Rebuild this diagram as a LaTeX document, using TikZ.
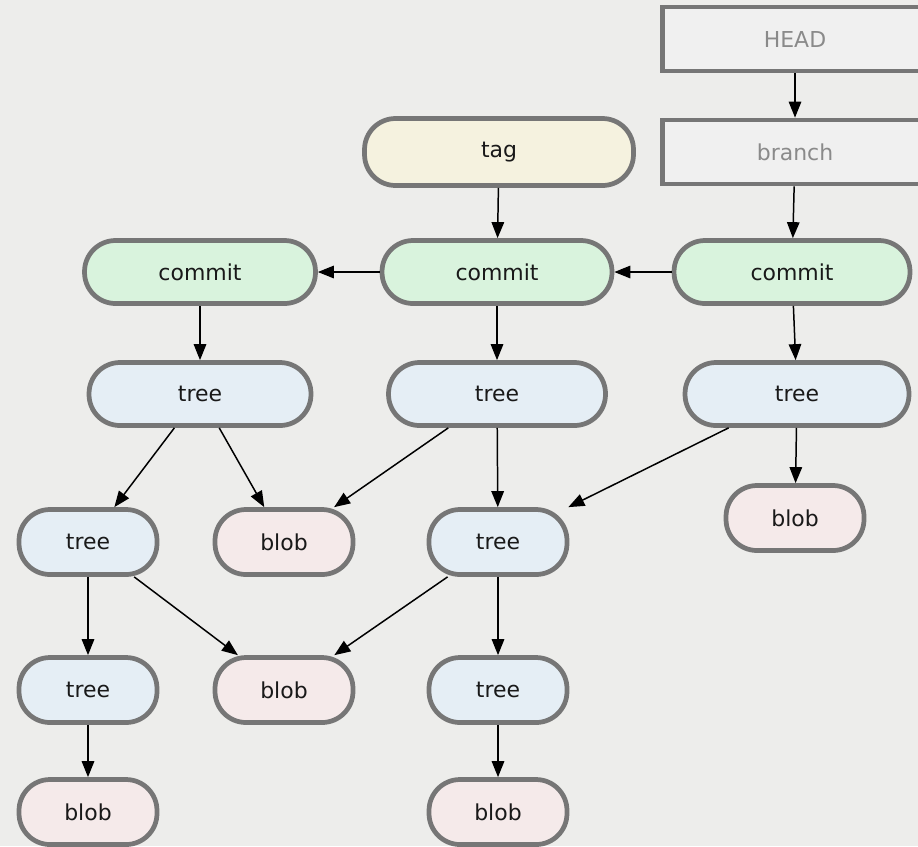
\documentclass[tikz,border=0pt]{standalone}
\usepackage{fontspec}
\setmainfont{DejaVu Sans}
\usetikzlibrary{arrows.meta}
\definecolor{bggray}{HTML}{EDEDEB}
\definecolor{edgegray}{HTML}{767676}
\definecolor{tagfill}{HTML}{F5F2DF}
\definecolor{commitfill}{HTML}{D9F3DD}
\definecolor{treefill}{HTML}{E5EEF5}
\definecolor{blobfill}{HTML}{F5EAEA}
\definecolor{reffill}{HTML}{F0F0F0}
\definecolor{reftext}{HTML}{8A8A8A}
\tikzset{
  pill/.style={draw=edgegray,line width=2.7pt,rounded corners=0.62cm,
    minimum height=1.26cm,text=black!90,font=\fontsize{12.5}{14}\selectfont},
  refbox/.style={draw=edgegray,line width=2.7pt,fill=reffill,text=reftext,
    minimum width=5.3cm,minimum height=1.28cm,font=\fontsize{12.5}{14}\selectfont},
  tagnode/.style={pill,fill=tagfill,minimum width=5.38cm,minimum height=1.34cm},
  commitnode/.style={pill,fill=commitfill},
  treenode/.style={pill,fill=treefill},
  blobnode/.style={pill,fill=blobfill},
  small/.style={minimum width=2.76cm,minimum height=1.3cm},
  link/.style={-{Triangle[length=0.32cm,width=0.25cm]},line width=0.85pt}
}
\begin{document}
\begin{tikzpicture}[x=0.02cm,y=-0.02cm]
\fill [bggray] (0,0) rectangle (918,846);
\useasboundingbox (0,0) rectangle (918,846);
% refs
\node [refbox] (head) at (795,39) {HEAD};
\node [refbox] (branch) at (795,152) {branch};
\node [tagnode] (tag) at (499,152) {tag};
% commits
\node [commitnode,minimum width=4.62cm] (commitA) at (200,272) {commit};
\node [commitnode,minimum width=4.6cm] (commitB) at (497,272) {commit};
\node [commitnode,minimum width=4.72cm] (commitC) at (792,272) {commit};
% trees
\node [treenode,minimum width=4.44cm] (treeA) at (200,394) {tree};
\node [treenode,minimum width=4.34cm] (treeB) at (497,394) {tree};
\node [treenode,minimum width=4.48cm] (treeC) at (797,394) {tree};
\node [treenode,small] (treeD) at (88,542) {tree};
\node [blobnode,small] (blobA) at (284,542) {blob};
\node [treenode,small] (treeE) at (498,542) {tree};
\node [blobnode,small] (blobB) at (795,518) {blob};
\node [treenode,small] (treeF) at (88,690) {tree};
\node [blobnode,small] (blobC) at (284,690) {blob};
\node [treenode,small] (treeG) at (498,690) {tree};
\node [blobnode,small] (blobD) at (88,812) {blob};
\node [blobnode,small] (blobE) at (498,812) {blob};
% links
\draw [link] (head) -- (branch);
\draw [link] (branch) -- (commitC);
\draw [link] (tag) -- (commitB);
\draw [link] (commitC) -- (commitB);
\draw [link] (commitB) -- (commitA);
\draw [link] (commitA) -- (treeA);
\draw [link] (commitB) -- (treeB);
\draw [link] (commitC) -- (treeC);
\draw [link] (treeA) -- (treeD);
\draw [link] (treeA) -- (blobA);
\draw [link] (treeB) -- (blobA);
\draw [link] (treeB) -- (treeE);
\draw [link] (treeC) -- (treeE);
\draw [link] (treeC) -- (blobB);
\draw [link] (treeD) -- (treeF);
\draw [link] (treeD) -- (blobC);
\draw [link] (treeE) -- (blobC);
\draw [link] (treeE) -- (treeG);
\draw [link] (treeF) -- (blobD);
\draw [link] (treeG) -- (blobE);
\end{tikzpicture}
\end{document}
